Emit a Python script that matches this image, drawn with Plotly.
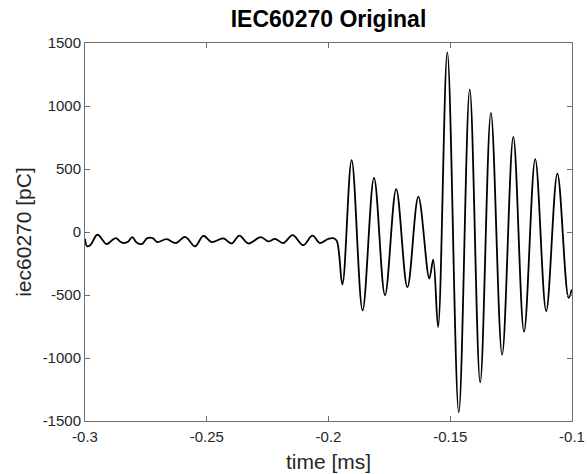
import plotly.graph_objects as go

# Time samples (ms) (extrema and turning points)
time_ms = [
    -0.3000, -0.2991, -0.2977, -0.2949, -0.2911, -0.2890, -0.2873, -0.2856,
    -0.2840, -0.2822, -0.2806, -0.2788, -0.2767, -0.2744, -0.2722, -0.2703,
    -0.2665, -0.2627, -0.2589, -0.2548, -0.2514, -0.2480, -0.2432, -0.2398,
    -0.2366, -0.2329, -0.2278, -0.2247, -0.2220, -0.2186, -0.2147, -0.2104,
    -0.2066, -0.2035, -0.2001, -0.1980, -0.1966,
    -0.1943, -0.1905, -0.1860, -0.1813, -0.1768, -0.1722, -0.1676, -0.1631,
    -0.1586, -0.1570, -0.1550, -0.1512, -0.1465, -0.1420, -0.1377, -0.1333,
    -0.1287, -0.1241, -0.1197, -0.1151, -0.1106, -0.1060, -0.1014, -0.1001,
]

# Charge values (pC)
iec60270_pc = [
    -54, -114, -101, -22, -96, -67, -49, -75,
    -88, -75, -41, -83, -96, -49, -49, -80,
    -57, -88, -38, -114, -30, -80, -51, -91,
    -28, -91, -41, -75, -54, -88, -25, -104,
    -28, -88, -54, -49, -70,
    -417, 570, -622, 430, -501, 341, -438, 280,
    -369, -219, -754, 1425, -1431, 1131, -1194, 946,
    -975, 754, -791, 578, -628, 464, -523, -456,
]

x_ticks = [-0.3, -0.25, -0.2, -0.15, -0.1]
x_tick_labels = ["-0.3", "-0.25", "-0.2", "-0.15", "-0.1"]
y_ticks = [-1500, -1000, -500, 0, 500, 1000, 1500]
y_tick_labels = ["-1500", "-1000", "-500", "0", "500", "1000", "1500"]

FONT = "Liberation Sans, Arial, sans-serif"
AX_COLOR = "#6e6e6e"

FIG_W, FIG_H = 587, 474

fig = go.Figure(
    go.Scatter(
        x=time_ms,
        y=iec60270_pc,
        mode="lines",
        line=dict(color="black", width=1.8, shape="spline", smoothing=1.0),
        showlegend=False,
        hoverinfo="skip",
    )
)

axis_common = dict(
    showgrid=False,
    zeroline=False,
    showline=True,
    linecolor=AX_COLOR,
    linewidth=1,
    mirror="allticks",
    ticks="inside",
    ticklen=5,
    tickcolor=AX_COLOR,
    tickwidth=1,
    automargin=False,
    tickfont=dict(family=FONT, size=15, color="#262626"),
)

fig.update_layout(
    width=FIG_W,
    height=FIG_H,
    margin=dict(l=84.5, r=15.3, t=42.5, b=53, pad=0),
    paper_bgcolor="white",
    plot_bgcolor="white",
    hovermode=False,
    title=dict(
        text="<b>IEC60270 Original</b>",
        font=dict(family=FONT, size=23, color="black"),
        x=0.5,
        xref="paper",
        y=1 - 18.5 / FIG_H,
        yref="container",
        yanchor="middle",
        xanchor="center",
    ),
    xaxis=dict(
        range=[-0.3, -0.1],
        tickvals=x_ticks,
        ticktext=x_tick_labels,
        ticklabelstandoff=2,
        title=dict(text="time [ms]", font=dict(family=FONT, size=21, color="#262626"), standoff=10),
        **axis_common,
    ),
    yaxis=dict(
        range=[-1500, 1500],
        tickvals=y_ticks,
        ticktext=y_tick_labels,
        title=dict(text="iec60270 [pC]", font=dict(family=FONT, size=21, color="#262626"), standoff=5),
        **axis_common,
    ),
)

# Remove the browser's default body margin so the figure fills the window exactly
fig.write_html(
    "out.html",
    config={"displayModeBar": False},
    post_script="document.body.style.margin='0px';document.body.style.overflow='hidden';",
)
